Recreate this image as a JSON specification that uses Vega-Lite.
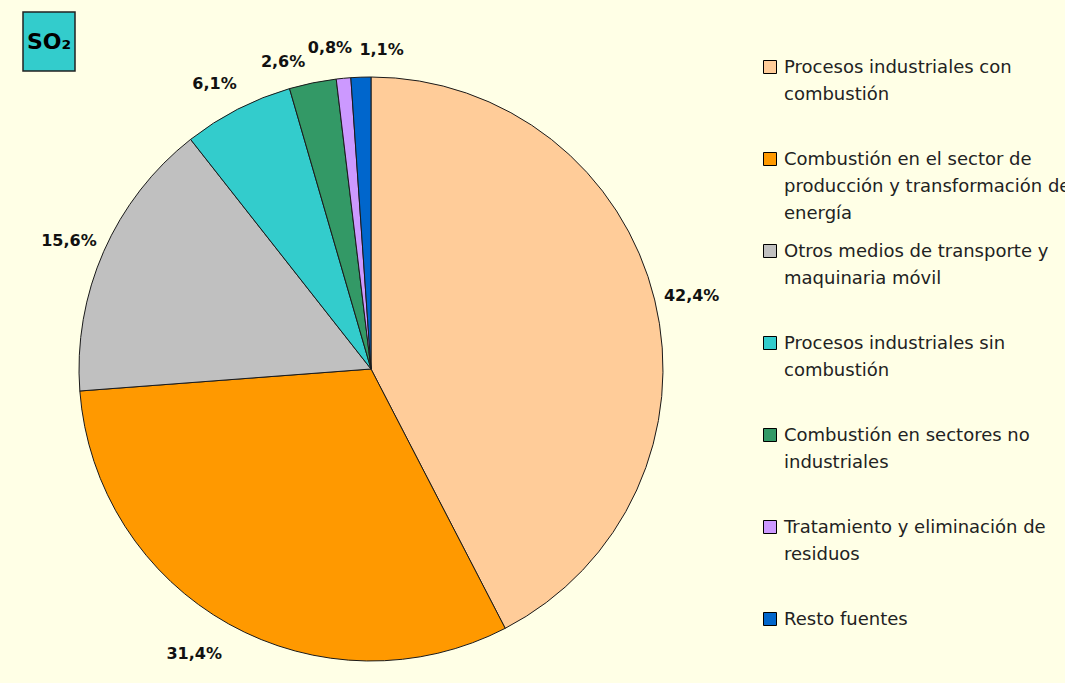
{
  "$schema": "https://vega.github.io/schema/vega-lite/v6.json",
  "background": "#FFFFE6",
  "padding": {"left": 22, "top": 11, "right": 20, "bottom": 30},
  "bounds": "flush",
  "spacing": 6,
  "config": {
    "view": {"stroke": null},
    "style": {"guide-label": {"lineHeight": 27, "dy": 6}}
  },
  "vconcat": [
    {
      "width": 52,
      "height": 59,
      "view": {"fill": "#33CCCC", "stroke": "#222222", "strokeWidth": 1.5},
      "data": {"values": [{"t": "SO₂"}]},
      "mark": {"type": "text", "font": "DejaVu Sans", "fontWeight": "bold", "fontSize": 22, "color": "#000000", "align": "center", "baseline": "middle"},
      "encoding": {"text": {"field": "t"}}
    },
    {
      "width": 696,
      "height": 584,
      "data": {"values": [
        {"orden": 1, "fuente": "Procesos industriales con combustión", "valor": 42.4, "etiqueta": "42,4%"},
        {"orden": 2, "fuente": "Combustión en el sector de producción y transformación de energía", "valor": 31.4, "etiqueta": "31,4%"},
        {"orden": 3, "fuente": "Otros medios de transporte y maquinaria móvil", "valor": 15.6, "etiqueta": "15,6%"},
        {"orden": 4, "fuente": "Procesos industriales sin combustión", "valor": 6.1, "etiqueta": "6,1%"},
        {"orden": 5, "fuente": "Combustión en sectores no industriales", "valor": 2.6, "etiqueta": "2,6%"},
        {"orden": 6, "fuente": "Tratamiento y eliminación de residuos", "valor": 0.8, "etiqueta": "0,8%"},
        {"orden": 7, "fuente": "Resto fuentes", "valor": 1.1, "etiqueta": "1,1%"}
      ]},
      "encoding": {
        "theta": {"field": "valor", "type": "quantitative", "stack": true},
        "order": {"field": "orden", "type": "quantitative"}
      },
      "layer": [
        {
          "mark": {"type": "arc", "outerRadius": 292, "stroke": "#1a1a1a", "strokeWidth": 1},
          "encoding": {
            "color": {
              "field": "fuente", "type": "nominal",
              "scale": {
                "domain": ["Procesos industriales con combustión", "Combustión en el sector de producción y transformación de energía", "Otros medios de transporte y maquinaria móvil", "Procesos industriales sin combustión", "Combustión en sectores no industriales", "Tratamiento y eliminación de residuos", "Resto fuentes"],
                "range": ["#FFCC99", "#FF9900", "#C0C0C0", "#33CCCC", "#339966", "#CC99FF", "#0066CC"]
              },
              "legend": {
                "orient": "none", "legendX": 738, "legendY": 46, "title": null, "padding": 0,
                "symbolType": "square", "symbolSize": 169, "symbolStrokeColor": "#000000", "symbolStrokeWidth": 1, "symbolOpacity": 1,
                "labelFont": "DejaVu Sans", "labelFontSize": 18, "labelColor": "#222222", "labelBaseline": "alphabetic", "labelOffset": 5, "labelLimit": 600,
                "rowPadding": 19,
                "labelExpr": "{'Procesos industriales con combustión': ['Procesos industriales con', 'combustión', ''], 'Combustión en el sector de producción y transformación de energía': ['Combustión en el sector de', 'producción y transformación de', 'energía'], 'Otros medios de transporte y maquinaria móvil': ['Otros medios de transporte y', 'maquinaria móvil', ''], 'Procesos industriales sin combustión': ['Procesos industriales sin', 'combustión', ''], 'Combustión en sectores no industriales': ['Combustión en sectores no', 'industriales', ''], 'Tratamiento y eliminación de residuos': ['Tratamiento y eliminación de', 'residuos', ''], 'Resto fuentes': ['Resto fuentes', '', '']}[datum.label]"
              }
            }
          }
        },
        {
          "mark": {"type": "text", "radius": 330, "dy": 5, "font": "DejaVu Sans", "fontWeight": "bold", "fontSize": 16, "color": "#111111", "align": "center", "baseline": "middle"},
          "encoding": {"text": {"condition": {"test": "datum.orden == 1 || datum.orden == 3", "field": "etiqueta"}, "value": ""}}
        },
        {
          "mark": {"type": "text", "radius": 330, "dx": -16, "dy": -3, "font": "DejaVu Sans", "fontWeight": "bold", "fontSize": 16, "color": "#111111", "align": "center", "baseline": "middle"},
          "encoding": {"text": {"condition": {"test": "datum.orden == 2", "field": "etiqueta"}, "value": ""}}
        },
        {
          "mark": {"type": "text", "radius": 325, "dx": -8, "dy": 4, "font": "DejaVu Sans", "fontWeight": "bold", "fontSize": 16, "color": "#111111", "align": "center", "baseline": "middle"},
          "encoding": {"text": {"condition": {"test": "datum.orden == 4", "field": "etiqueta"}, "value": ""}}
        },
        {
          "mark": {"type": "text", "radius": 330, "dx": -22, "dy": 16, "font": "DejaVu Sans", "fontWeight": "bold", "fontSize": 16, "color": "#111111", "align": "center", "baseline": "middle"},
          "encoding": {"text": {"condition": {"test": "datum.orden == 5", "field": "etiqueta"}, "value": ""}}
        },
        {
          "mark": {"type": "text", "radius": 330, "dx": -10, "dy": 8, "font": "DejaVu Sans", "fontWeight": "bold", "fontSize": 16, "color": "#111111", "align": "center", "baseline": "middle"},
          "encoding": {"text": {"condition": {"test": "datum.orden == 6", "field": "etiqueta"}, "value": ""}}
        },
        {
          "mark": {"type": "text", "radius": 330, "dx": 22, "dy": 11, "font": "DejaVu Sans", "fontWeight": "bold", "fontSize": 16, "color": "#111111", "align": "center", "baseline": "middle"},
          "encoding": {"text": {"condition": {"test": "datum.orden == 7", "field": "etiqueta"}, "value": ""}}
        }
      ]
    }
  ]
}
